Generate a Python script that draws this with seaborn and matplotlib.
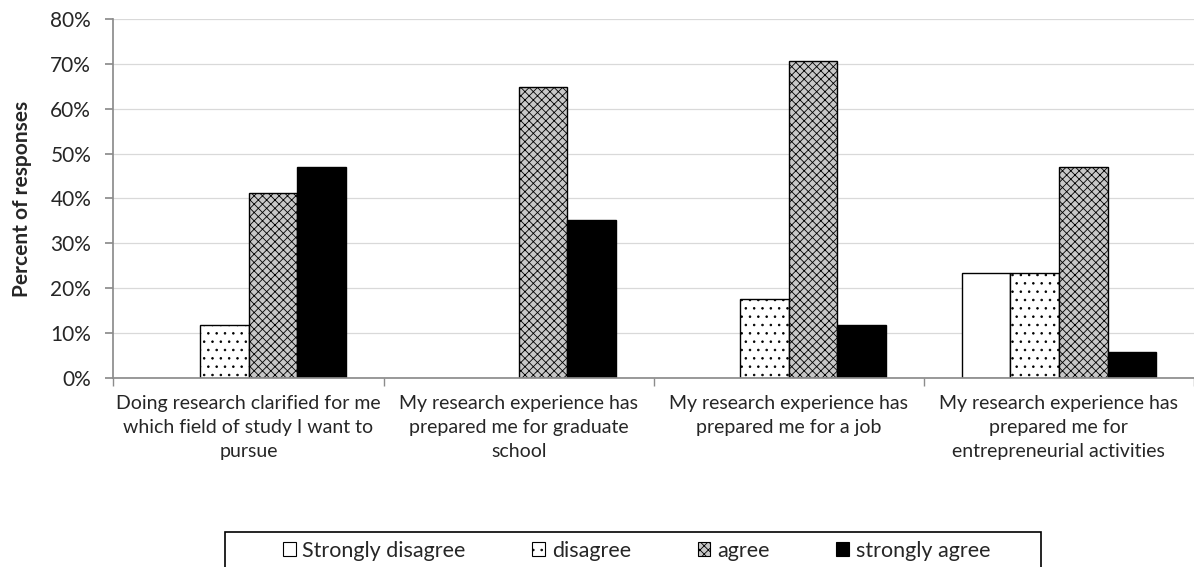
import numpy as np
import pandas as pd
import matplotlib
matplotlib.use("Agg")
import matplotlib.pyplot as plt
import seaborn as sns
from matplotlib.patches import Patch, Rectangle
from matplotlib.ticker import PercentFormatter

# ---------------------------------------------------------------------------
# Data (percent of responses)
# ---------------------------------------------------------------------------
statements = [
    "Doing research clarified for me\nwhich field of study I want to\npursue",
    "My research experience has\nprepared me for graduate\nschool",
    "My research experience has\nprepared me for a job",
    "My research experience has\nprepared me for\nentrepreneurial activities",
]
responses = ["Strongly disagree", "disagree", "agree", "strongly agree"]
strongly_disagree = [0.0, 0.0, 0.0, 23.5]
disagree = [11.8, 0.0, 17.6, 23.5]
agree = [41.2, 64.7, 70.6, 47.1]
strongly_agree = [47.1, 35.3, 11.8, 5.9]

df = pd.DataFrame({
    "statement": np.repeat(statements, 4),
    "response": responses * len(statements),
    "pct": np.ravel(np.column_stack([strongly_disagree, disagree, agree, strongly_agree])),
})

fills = {"Strongly disagree": "white", "disagree": "white",
         "agree": "#c8c8c8", "strongly agree": "black"}
hatches = {"Strongly disagree": "", "disagree": "..",
           "agree": "xxxx", "strongly agree": ""}

sns.set_theme(style="white")
plt.rcParams["font.family"] = ["Lato", "DejaVu Sans"]
plt.rcParams["hatch.linewidth"] = 0.6
plt.rcParams["hatch.color"] = "black"

fig, ax = plt.subplots(figsize=(11.94, 5.67), dpi=100)
sns.barplot(data=df, x="statement", y="pct", hue="response",
            order=statements, hue_order=responses, palette=fills,
            width=0.72, gap=0, edgecolor="black", linewidth=1.0,
            legend=False, ax=ax)

for cont, resp in zip(ax.containers, responses):
    for bar in cont:
        bar.set_hatch(hatches[resp])
        if bar.get_height() == 0:
            bar.set_visible(False)

ax.set_ylim(0, 80)
ax.set_xlim(-0.5, len(statements) - 0.5)
ax.set_yticks(range(0, 81, 10))
ax.yaxis.set_major_formatter(PercentFormatter(decimals=0))
ax.yaxis.grid(True, color="#d9d9d9", linewidth=0.9)
ax.set_axisbelow(True)
ax.axhline(80, color="#404040", linewidth=1.2, zorder=0)

for s in ["top", "right"]:
    ax.spines[s].set_visible(False)
ax.spines["left"].set_color("#8c8c8c")
ax.spines["bottom"].set_color("#8c8c8c")

# category separator ticks below the axis
ax.set_xticks(np.arange(-0.5, len(statements)), minor=True)
ax.tick_params(axis="x", which="minor", length=6, color="#8c8c8c", direction="out", bottom=True)
ax.tick_params(axis="x", which="major", length=0, labelsize=14, pad=12)
ax.tick_params(axis="y", length=6, color="#8c8c8c", direction="out", left=True,
               labelsize=15, pad=10)
for lbl in ax.get_xticklabels():
    lbl.set_linespacing(1.5)

ax.set_xlabel("")
ax.set_ylabel("Percent of responses", fontsize=15, fontweight="bold", labelpad=13)

handles = [Patch(facecolor=fills[r], edgecolor="black", hatch=hatches[r], linewidth=0.8)
           for r in responses]
fig.legend(handles, responses, loc="center", bbox_to_anchor=(0.533, 0.029),
           ncol=4, frameon=False, fontsize=15.5, handlelength=0.6, handleheight=0.6,
           handletextpad=0.3, columnspacing=3.1)
fig.patches.append(Rectangle((225 / 1194, -0.02), (1041 - 225) / 1194, 0.082,
                             transform=fig.transFigure, fill=False,
                             edgecolor="black", linewidth=1.2))

fig.subplots_adjust(left=0.095, right=1.0, top=0.967, bottom=0.333)
fig.savefig("out.png", dpi=100)
